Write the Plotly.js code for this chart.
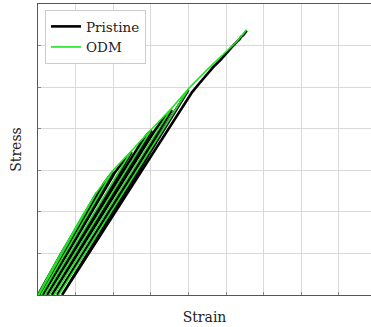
<!DOCTYPE html>
<html>
<head>
<meta charset="utf-8">
<script src="https://cdn.plot.ly/plotly-3.0.1.min.js"></script>
<style>html,body{margin:0;padding:0;background:#fff;}#chart{width:371px;height:327px;}</style>
</head>
<body>
<div id="chart"></div>
<script>
// Pristine (black) stress-strain path with unload/reload cycles (grid units)
const pristineStrain = [0, 0.30, 0.60, 0.88, 1.20, 1.40, 1.56,
  0.05, 1.59,
  1.75, 1.88, 2.00,
  0.13, 2.04,
  2.25, 2.40, 2.49,
  0.24, 2.54,
  2.75, 2.92, 3.02,
  0.37, 3.08,
  3.30, 3.45, 3.56,
  0.51, 3.62,
  3.80, 3.92, 4.00,
  0.64, 4.10,
  4.30, 4.50, 4.66, 4.85, 5.00, 5.19, 5.30, 5.36, 5.40, 5.46, 5.55];
const pristineStress = [0, 0.49, 0.97, 1.40, 1.90, 2.20, 2.45,
  0, 2.42,
  2.68, 2.84, 2.97,
  0, 2.94,
  3.20, 3.36, 3.44,
  0, 3.40,
  3.68, 3.88, 3.96,
  0, 3.92,
  4.20, 4.36, 4.45,
  0, 4.41,
  4.68, 4.84, 4.93,
  0, 4.88,
  5.10, 5.31, 5.48, 5.65, 5.81, 6.00, 6.10, 6.15, 6.21, 6.25, 6.36];

// ODM (green) path
const odmStrain = [0, 0.40, 0.88, 1.20, 1.56,
  0.02, 1.56,
  2.00,
  0.08, 2.00,
  2.49,
  0.18, 2.49,
  3.02,
  0.30, 3.02,
  3.56,
  0.43, 3.56,
  4.02,
  0.55, 4.02,
  4.50, 5.00, 5.30, 5.55];
const odmStress = [0, 0.67, 1.43, 1.94, 2.47,
  0, 2.47,
  3.00,
  0, 3.00,
  3.47,
  0, 3.47,
  3.99,
  0, 3.99,
  4.50,
  0, 4.50,
  4.98,
  0, 4.98,
  5.42, 5.86, 6.11, 6.38];

const seriesNames = ['Pristine', 'ODM'];

const traces = [
  {x: pristineStrain, y: pristineStress, name: seriesNames[0], mode: 'lines',
   line: {color: '#000000', width: 2.6}},
  {x: odmStrain, y: odmStress, name: seriesNames[1], mode: 'lines',
   line: {color: '#22e022', width: 1.6}}
];

const layout = {
  width: 371, height: 327,
  margin: {l: 38, r: 0, t: 4, b: 32},
  paper_bgcolor: '#ffffff', plot_bgcolor: '#ffffff',
  font: {family: 'DejaVu Serif, serif', color: '#222'},
  showlegend: true,
  legend: {x: 0.021, y: 0.979, xanchor: 'left', yanchor: 'top',
    bgcolor: '#ffffff', bordercolor: '#cccccc', borderwidth: 1,
    font: {family: 'DejaVu Serif, serif', size: 13.5, color: '#222'},
    tracegroupgap: 0, itemwidth: 30},
  xaxis: {range: [0, 8.856], dtick: 1, tick0: 0, showticklabels: false,
    showgrid: true, gridcolor: '#d9d9d9', gridwidth: 1, zeroline: false,
    showline: true, linecolor: '#555555', linewidth: 1, mirror: true,
    ticks: 'inside', ticklen: 3, tickcolor: '#888888',
    title: {text: 'Strain', font: {family: 'DejaVu Serif, serif', size: 14, color: '#222'}, standoff: 17},
    fixedrange: true},
  yaxis: {range: [0, 7], dtick: 1, tick0: 0, showticklabels: false,
    showgrid: true, gridcolor: '#d9d9d9', gridwidth: 1, zeroline: false,
    showline: true, linecolor: '#555555', linewidth: 1, mirror: false,
    ticks: 'inside', ticklen: 3, tickcolor: '#888888',
    title: {text: 'Stress', font: {family: 'DejaVu Serif, serif', size: 14, color: '#222'}, standoff: 12},
    fixedrange: true}
};

Plotly.newPlot('chart', traces, layout, {displayModeBar: false, staticPlot: true});
</script>
</body>
</html>
